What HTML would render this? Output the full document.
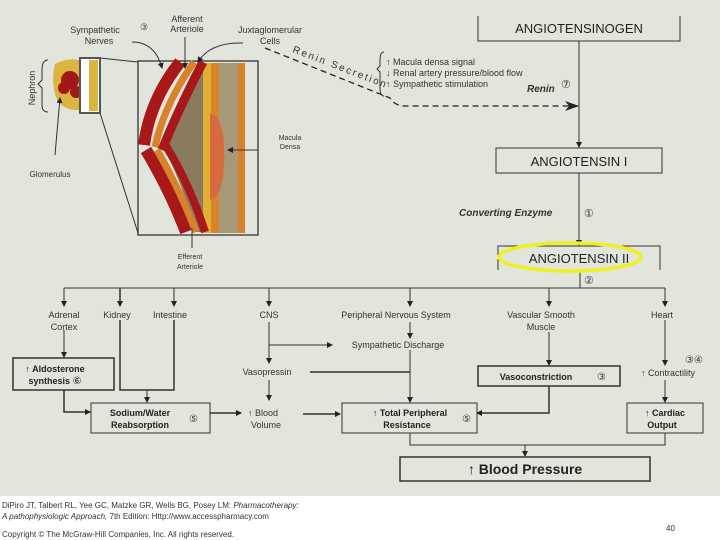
<!DOCTYPE html>
<html><head><meta charset="utf-8"><style>
body{margin:0;width:720px;height:540px;background:#fff;overflow:hidden;font-family:"Liberation Sans",sans-serif}
svg{position:absolute;left:0;top:0}
</style></head><body>
<svg width="720" height="540" viewBox="0 0 720 540" xmlns="http://www.w3.org/2000/svg" font-family="Liberation Sans, sans-serif">
<defs><marker id="a" markerWidth="6" markerHeight="6" refX="5" refY="3" orient="auto" markerUnits="userSpaceOnUse"><path d="M0,0 L6,3 L0,6z" fill="#222"/></marker>
<marker id="b" markerWidth="14" markerHeight="10" refX="13" refY="5" orient="auto" markerUnits="userSpaceOnUse"><path d="M0,0 L14,5 L0,10 L4,5z" fill="#222"/></marker></defs>
<rect x="0" y="0" width="720" height="496" fill="#e2e5dc"/>
<g fill="none" stroke="#333" stroke-width="1">
<line x1="100" y1="58" x2="138" y2="62"/>
<line x1="100" y1="113" x2="138" y2="233"/>
</g>
<path d="M55,64 Q70,56 85,62 L88,108 Q70,114 58,102 Q50,85 55,64z" fill="#dcb440"/>
<circle cx="70" cy="80" r="9" fill="#a01818"/><circle cx="64" cy="88" r="6" fill="#a01818"/><circle cx="76" cy="92" r="6" fill="#a01818"/>
<rect x="80" y="58" width="20" height="55" fill="#fff" stroke="#555" stroke-width="2"/>
<rect x="89" y="60" width="9" height="51" fill="#dcb440"/>
<path d="M48,60 Q42,60 42,70 L42,80 L38,84 L42,88 L42,105 Q42,112 48,112" fill="none" stroke="#333"/>
<text x="35" y="88" font-size="9" fill="#333" transform="rotate(-90 35 88)" text-anchor="middle">Nephron</text>
<line x1="55" y1="155" x2="60" y2="98" stroke="#333" marker-end="url(#a)"/>
<text x="50" y="177" font-size="8" fill="#333" text-anchor="middle">Glomerulus</text>
<rect x="138" y="61" width="120" height="174" fill="#e2e5dc" stroke="#333" stroke-width="1.3"/>
<rect x="203" y="63" width="8" height="170" fill="#e0b030"/>
<rect x="211" y="63" width="8" height="170" fill="#d8822c"/>
<rect x="219" y="63" width="19" height="170" fill="#a89878"/>
<rect x="238" y="63" width="7" height="170" fill="#d8822c"/>
<path d="M197,65 Q175,110 165,150 Q185,190 195,232 L203,232 L203,65z" fill="#8a7a60"/>
<path d="M210,113 Q225,118 224,155 Q225,195 210,200z" fill="#d86a40"/>
<path d="M180,62 Q150,100 144,145" fill="none" stroke="#a81818" stroke-width="12"/>
<path d="M194,62 Q164,105 155,147" fill="none" stroke="#d8822c" stroke-width="7"/>
<path d="M203,62 Q178,110 162,150" fill="none" stroke="#a81818" stroke-width="9"/>
<path d="M146,150 Q170,190 186,232" fill="none" stroke="#a81818" stroke-width="12"/>
<path d="M157,150 Q180,190 196,232" fill="none" stroke="#d8822c" stroke-width="7"/>
<path d="M166,146 Q190,185 205,232" fill="none" stroke="#a81818" stroke-width="8"/>
<g stroke="#333" fill="none" stroke-width="1">
<path d="M132,42 Q155,42 162,68" marker-end="url(#a)"/>
<line x1="185" y1="37" x2="185" y2="68" marker-end="url(#a)"/>
<path d="M243,43 Q210,42 198,62" marker-end="url(#a)"/>
<line x1="258" y1="150" x2="228" y2="150" marker-end="url(#a)"/>
<line x1="192" y1="248" x2="192" y2="228"/>
</g>
<g font-size="9" fill="#333" text-anchor="middle">
<text x="95" y="33">Sympathetic</text><text x="99" y="44">Nerves</text>
<text x="144" y="30">③</text>
<text x="187" y="22">Afferent</text><text x="187" y="32">Arteriole</text>
<text x="270" y="33">Juxtaglomerular</text><text x="270" y="44">Cells</text>
<text x="290" y="140" font-size="7">Macula</text><text x="290" y="149" font-size="7">Densa</text>
<text x="190" y="259" font-size="7">Efferent</text><text x="190" y="269" font-size="7">Arteriole</text>
</g>
<text x="292" y="52" font-size="10" fill="#333" letter-spacing="2" transform="rotate(21 292 52)">Renin Secretion</text>
<path d="M265,48 L390,98 Q395,106 405,106 L578,106" fill="none" stroke="#222" stroke-width="1.3" stroke-dasharray="6,4" marker-end="url(#b)"/>
<g fill="none" stroke="#333" stroke-width="1">
<path d="M478,16 L478,41 L680,41 L680,16"/>
<rect x="496" y="148" width="166" height="25"/>
<path d="M498,270 L498,246 L660,246 L660,270"/>
<line x1="579" y1="41" x2="579" y2="147" marker-end="url(#a)"/>
<line x1="579" y1="173" x2="579" y2="245" marker-end="url(#a)"/>
<line x1="580" y1="270" x2="580" y2="288"/>
<line x1="64" y1="288" x2="665" y2="288"/>
<path d="M384,52 Q380,52 380,60 L380,66 L377,69 L380,72 L380,88 Q380,96 384,96"/>
</g>
<g fill="#222" font-size="13" text-anchor="middle"><text x="579" y="33">ANGIOTENSINOGEN</text><text x="579" y="166">ANGIOTENSIN I</text><text x="579" y="263">ANGIOTENSIN II</text></g>
<ellipse cx="570" cy="257" rx="71" ry="14" fill="none" stroke="#f0f020" stroke-width="3.5"/>
<g font-size="9" fill="#333">
<text x="386" y="65">↑ Macula densa signal</text><text x="386" y="76">↓ Renal artery pressure/blood flow</text><text x="386" y="87">↑ Sympathetic stimulation</text>
<text x="527" y="92" font-weight="bold" font-style="italic" font-size="10">Renin</text><text x="561" y="88" font-size="11">⑦</text>
<text x="459" y="216" font-weight="bold" font-style="italic" font-size="10">Converting Enzyme</text><text x="584" y="217" font-size="11">①</text>
<text x="584" y="284" font-size="11">②</text>
</g>
<g fill="none" stroke="#333" stroke-width="1">
<line x1="64" y1="288" x2="64" y2="306" marker-end="url(#a)"/>
<line x1="120" y1="288" x2="120" y2="306" marker-end="url(#a)" stroke-width="1.5"/>
<line x1="174" y1="288" x2="174" y2="306" marker-end="url(#a)"/>
<line x1="269" y1="288" x2="269" y2="306" marker-end="url(#a)"/>
<line x1="410" y1="288" x2="410" y2="306" marker-end="url(#a)"/>
<line x1="549" y1="288" x2="549" y2="306" marker-end="url(#a)"/>
<line x1="665" y1="288" x2="665" y2="306" marker-end="url(#a)"/>
<line x1="64" y1="330" x2="64" y2="357" marker-end="url(#a)"/>
<path d="M120,320 L120,390 L174,390 L174,320" stroke-width="1.5"/>
<line x1="147" y1="390" x2="147" y2="402" marker-end="url(#a)"/>
<path d="M64,390 L64,412 L90,412" marker-end="url(#a)" stroke-width="1.5"/>
<line x1="210" y1="413" x2="241" y2="413" marker-end="url(#a)" stroke-width="1.5"/>
<line x1="269" y1="322" x2="269" y2="363" marker-end="url(#a)"/>
<line x1="269" y1="345" x2="332" y2="345" marker-end="url(#a)"/>
<line x1="269" y1="380" x2="269" y2="400" marker-end="url(#a)"/>
<line x1="410" y1="322" x2="410" y2="338" marker-end="url(#a)"/>
<line x1="410" y1="350" x2="410" y2="402" marker-end="url(#a)"/>
<line x1="310" y1="372" x2="410" y2="372" stroke-width="1.5"/>
<line x1="303" y1="414" x2="340" y2="414" marker-end="url(#a)" stroke-width="1.5"/>
<line x1="549" y1="332" x2="549" y2="365" marker-end="url(#a)"/>
<path d="M549,386 L549,413 L477,413" marker-end="url(#a)" stroke-width="1.5"/>
<line x1="665" y1="320" x2="665" y2="365" marker-end="url(#a)"/>
<line x1="665" y1="380" x2="665" y2="402" marker-end="url(#a)"/>
<path d="M410,433 L410,445 L665,445 L665,433"/>
<line x1="525" y1="445" x2="525" y2="456" marker-end="url(#a)"/>
<rect x="13" y="358" width="101" height="32" stroke-width="1.5"/>
<rect x="91" y="403" width="119" height="30"/>
<rect x="342" y="403" width="135" height="30"/>
<rect x="478" y="366" width="142" height="20" stroke-width="1.5"/>
<rect x="627" y="403" width="76" height="30"/>
<rect x="400" y="457" width="250" height="24" stroke-width="1.5"/>
</g>
<g font-size="9" fill="#333" text-anchor="middle">
<text x="64" y="318">Adrenal</text><text x="64" y="330">Cortex</text>
<text x="117" y="318">Kidney</text><text x="170" y="318">Intestine</text><text x="269" y="318">CNS</text>
<text x="396" y="318">Peripheral Nervous System</text>
<text x="541" y="318">Vascular Smooth</text><text x="541" y="330">Muscle</text>
<text x="662" y="318">Heart</text>
<text x="398" y="348">Sympathetic Discharge</text>
<text x="267" y="375">Vasopressin</text>
<text x="263" y="416">↑ Blood</text><text x="266" y="428">Volume</text>
<text x="668" y="376">↑ Contractility</text>
<text x="694" y="363" font-size="10">③④</text>
</g>
<g font-size="9" fill="#222" font-weight="bold" text-anchor="middle">
<text x="55" y="372">↑ Aldosterone</text><text x="55" y="384">synthesis <tspan font-weight="normal" font-size="10">⑥</tspan></text>
<text x="140" y="416">Sodium/Water</text><text x="140" y="428">Reabsorption</text>
<text x="410" y="416">↑ Total Peripheral</text><text x="407" y="428">Resistance</text>
<text x="536" y="380">Vasoconstriction</text>
<text x="665" y="416">↑ Cardiac</text><text x="662" y="428">Output</text>
<text x="525" y="474" font-size="14">↑ Blood Pressure</text>
</g>
<g font-size="10" fill="#333"><text x="189" y="422">⑤</text><text x="462" y="422">⑤</text><text x="597" y="380">③</text></g>
<g font-size="8" fill="#333">
<text x="2" y="508">DiPiro JT, Talbert RL, Yee GC, Matzke GR, Wells BG, Posey LM: <tspan font-style="italic">Pharmacotherapy:</tspan></text>
<text x="2" y="519"><tspan font-style="italic">A pathophysiologic Approach,</tspan> 7th Edition: Http://www.accesspharmacy.com</text>
<text x="2" y="537">Copyright © The McGraw-Hill Companies, Inc. All rights reserved.</text>
<text x="666" y="531">40</text>
</g>
</svg>
</body></html>
